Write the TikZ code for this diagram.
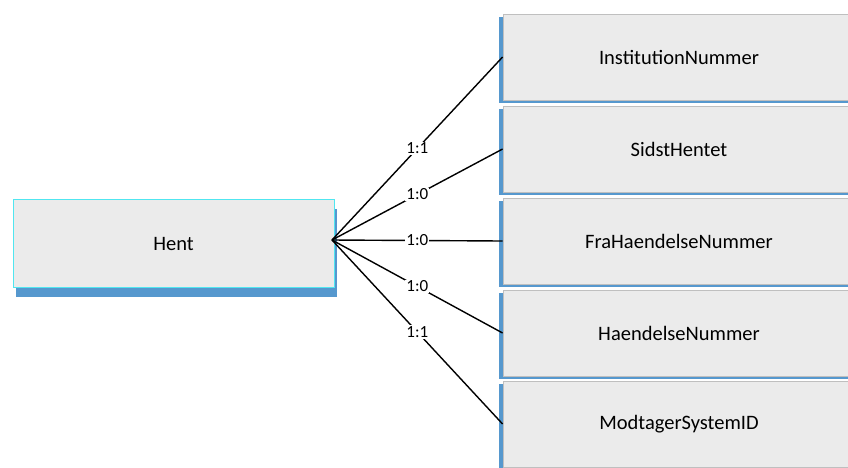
\documentclass[tikz,border=0pt]{standalone}
\usepackage{fontspec}
\setmainfont{Carlito}
\usetikzlibrary{shadows}
\definecolor{boxgray}{RGB}{235,235,235}
\definecolor{shadowblue}{RGB}{86,152,206}
\definecolor{edgecyan}{RGB}{80,230,240}
\tikzset{
        every picture/.style={x=1pt, y=-1pt},
        entity/.style={rectangle, fill=boxgray, draw=edgecyan, line width=0.8pt, inner sep=0pt, font=\fontsize{20.5}{24}\selectfont},
        mainbox/.style={entity, minimum width=321pt, minimum height=88pt,
          drop shadow={shadow xshift=3pt, shadow yshift=-9pt, fill=shadowblue, opacity=1}},
        attrbox/.style={entity, draw=gray!50, minimum width=352pt, minimum height=86pt,
          drop shadow={shadow xshift=-4pt, shadow yshift=-3pt, fill=shadowblue, opacity=1}},
        rel/.style={draw=black, line width=1.4pt},
        card/.style={fill=white, inner sep=1pt, font=\fontsize{17}{20}\selectfont}
          }
\begin{document}
\begin{tikzpicture}
        \useasboundingbox (0,0) rectangle (848,467);
        \node[mainbox] (hent) at (173.5,243.5) {Hent};
        \node[attrbox] (inst) at (679,57) {InstitutionNummer};
        \node[attrbox] (sidst) at (679,149) {SidstHentet};
        \node[attrbox] (fra) at (679,241) {FraHaendelseNummer};
        \node[attrbox] (haend) at (679,333) {HaendelseNummer};
        \node[attrbox] (modt) at (679,424) {ModtagerSystemID};
        \coordinate (src) at (332,240);
        \draw[rel] (src) -- node[card] {1:1} (inst.west);
        \draw[rel] (src) -- node[card] {1:0} (sidst.west);
        \draw[rel] (src) -- node[card] {1:0} (fra.west);
        \draw[rel] (src) -- node[card] {1:0} (haend.west);
        \draw[rel] (src) -- node[card] {1:1} (modt.west);
\end{tikzpicture}
\end{document}
